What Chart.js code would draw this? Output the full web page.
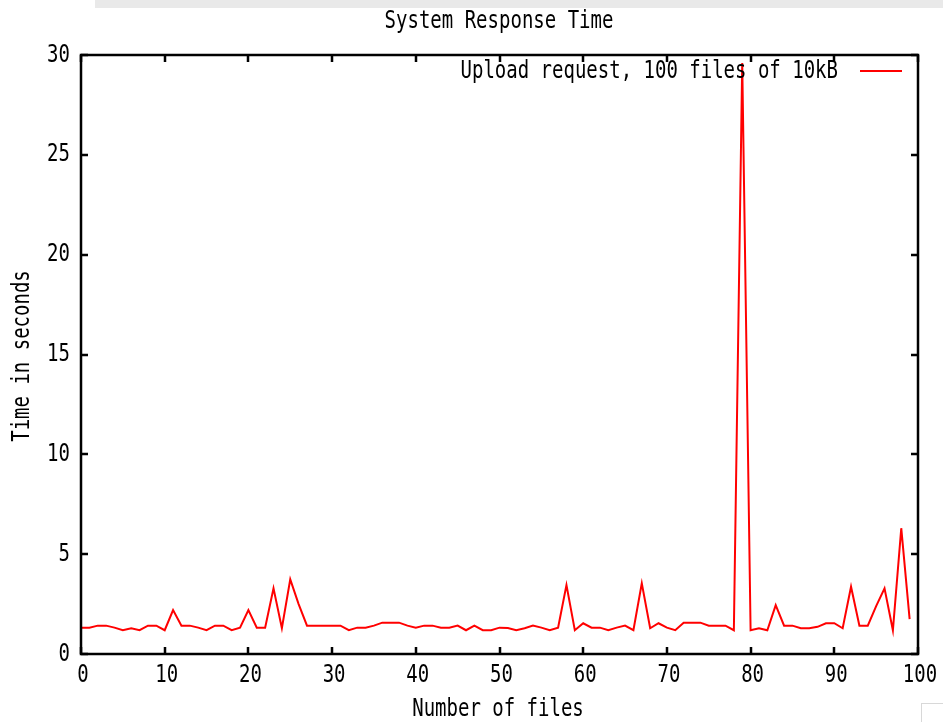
<!DOCTYPE html>
<html>
<head>
<meta charset="utf-8">
<title>System Response Time</title>
<script src="https://cdn.jsdelivr.net/npm/chart.js@4.4.1/dist/chart.umd.min.js"></script>
<style>
    html, body { margin: 0; padding: 0; background: #ffffff; }
    #wrap { position: relative; width: 943px; height: 722px; }
    #band { position: absolute; left: 95px; top: 0; width: 848px; height: 8px; background: #e9e9e9; }
    #corner { position: absolute; left: 921px; top: 703px; width: 22px; height: 19px; border: 1px solid #d8d8d8; border-right: none; border-bottom: none; box-sizing: border-box; }
</style>
</head>
<body>
<div id="wrap">
    <canvas id="chart" width="943" height="722"></canvas>
    <div id="band"></div>
    <div id="corner"></div>
</div>
<script>
// ---- data ----
const chartTitle = 'System Response Time';
const seriesLabel = 'Upload request, 100 files of 10kB';
const xTitle = 'Number of files';
const yTitle = 'Time in seconds';

// one sample per file, 0..99
const fileIndex = Array.from({ length: 100 }, (_, i) => i);

const responseTimes = [
    1.32, 1.32, 1.42, 1.42, 1.32, 1.19, 1.29, 1.19, 1.42, 1.42,
    1.19, 2.20, 1.42, 1.42, 1.32, 1.19, 1.42, 1.42, 1.19, 1.32,
    2.20, 1.32, 1.32, 3.29, 1.29, 3.74, 2.50, 1.42, 1.42, 1.42,
    1.42, 1.42, 1.19, 1.32, 1.32, 1.42, 1.57, 1.57, 1.57, 1.42,
    1.32, 1.42, 1.42, 1.32, 1.32, 1.42, 1.19, 1.42, 1.19, 1.19,
    1.32, 1.30, 1.19, 1.29, 1.42, 1.32, 1.19, 1.32, 3.45, 1.19,
    1.54, 1.32, 1.32, 1.19, 1.32, 1.42, 1.19, 3.54, 1.29, 1.54,
    1.32, 1.19, 1.57, 1.57, 1.57, 1.42, 1.42, 1.42, 1.19, 29.6,
    1.19, 1.29, 1.19, 2.45, 1.42, 1.42, 1.29, 1.29, 1.36, 1.54,
    1.54, 1.29, 3.37, 1.42, 1.42, 2.40, 3.29, 1.19, 6.30, 1.75
];

const xTicks = [0, 10, 20, 30, 40, 50, 60, 70, 80, 90, 100];
const yTicks = [0, 5, 10, 15, 20, 25, 30];

// ---- gnuplot-like frame, inward ticks, labels and legend ----
const FONT = '19px "DejaVu Sans Mono", "Liberation Mono", monospace';
const STRETCH = 1.35; // gnuplot's bitmap font is tall and narrow

function tallText(ctx, text, x, y, align) {
    ctx.save();
    ctx.translate(x, y);
    ctx.scale(1, STRETCH);
    ctx.textAlign = align;
    ctx.textBaseline = 'middle';
    ctx.fillText(text, 0, 0);
    ctx.restore();
}

const gnuplotFrame = {
    id: 'gnuplotFrame',
    afterDraw(chart) {
        const ctx = chart.ctx;
        const area = chart.chartArea;
        const xs = chart.scales.x;
        const ys = chart.scales.y;
        const tickLen = 7;

        ctx.save();
        ctx.strokeStyle = '#000';
        ctx.fillStyle = '#000';
        ctx.lineWidth = 2.5;
        ctx.strokeRect(area.left, area.top, area.right - area.left, area.bottom - area.top);

        ctx.lineWidth = 2.5;
        ctx.beginPath();
        xTicks.forEach(v => {
            const px = Math.round(xs.getPixelForValue(v));
            ctx.moveTo(px, area.bottom); ctx.lineTo(px, area.bottom - tickLen);
            ctx.moveTo(px, area.top); ctx.lineTo(px, area.top + tickLen);
        });
        yTicks.forEach(v => {
            const py = Math.round(ys.getPixelForValue(v));
            ctx.moveTo(area.left, py); ctx.lineTo(area.left + tickLen, py);
            ctx.moveTo(area.right, py); ctx.lineTo(area.right - tickLen, py);
        });
        ctx.stroke();

        ctx.font = FONT;
        xTicks.forEach(v => {
            tallText(ctx, String(v), xs.getPixelForValue(v) + 2, area.bottom + 21, 'center');
        });
        yTicks.forEach(v => {
            tallText(ctx, String(v), area.left - 11, ys.getPixelForValue(v), 'right');
        });

        // titles
        tallText(ctx, chartTitle, 499, 21, 'center');
        tallText(ctx, xTitle, 498, 709, 'center');
        ctx.save();
        ctx.translate(22, 356);
        ctx.rotate(-Math.PI / 2);
        ctx.scale(1, STRETCH);
        ctx.textAlign = 'center';
        ctx.textBaseline = 'middle';
        ctx.fillText(yTitle, 0, 0);
        ctx.restore();

        // legend, top right inside the frame
        const ds = chart.data.datasets[0];
        tallText(ctx, ds.label, 838, 71, 'right');
        ctx.strokeStyle = ds.borderColor;
        ctx.lineWidth = 2;
        ctx.beginPath();
        ctx.moveTo(860, 71);
        ctx.lineTo(902, 71);
        ctx.stroke();
        ctx.restore();
    }
};

new Chart(document.getElementById('chart'), {
    type: 'line',
    data: {
        datasets: [{
            label: seriesLabel,
            data: fileIndex.map((x, i) => ({ x: x, y: responseTimes[i] })),
            borderColor: '#ff0000',
            borderWidth: 2,
            pointRadius: 0,
            tension: 0,
            fill: false
        }]
    },
    options: {
        responsive: false,
        animation: false,
        layout: { padding: { left: 81, right: 25, top: 55, bottom: 68 } },
        plugins: {
            legend: { display: false },
            title: { display: false },
            tooltip: { enabled: false }
        },
        scales: {
            x: { type: 'linear', min: 0, max: 100, display: false },
            y: { type: 'linear', min: 0, max: 30, display: false }
        }
    },
    plugins: [gnuplotFrame]
});
</script>
</body>
</html>
